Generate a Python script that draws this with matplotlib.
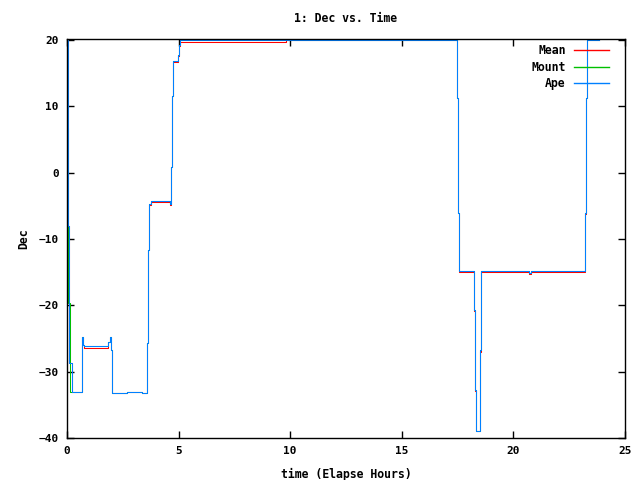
import matplotlib
matplotlib.use("Agg")
import matplotlib.pyplot as plt

# Mean (red)
mean_t = [0.00, 0.03, 0.06, 0.10, 0.21, 0.66, 0.69, 0.73, 0.78, 1.85, 1.93, 1.97, 2.03, 2.69, 3.34,
          3.58, 3.64, 3.69, 3.76, 4.61, 4.66, 4.72, 4.76, 4.96, 5.00, 5.05, 9.80, 17.49, 17.54, 17.58,
          18.25, 18.30, 18.34, 18.52, 18.57, 20.71, 20.80, 23.22, 23.27, 23.31, 23.82]
mean_v = [20, 5, -8, -28.7, -33, -28.8, -24.8, -26.0, -26.5, -25.6, -24.8, -26.8, -33.2, -33.0, -33.2,
          -25.7, -11.7, -4.9, -4.4, -4.9, 0.8, 11.6, 16.7, 17.6, 19.1, 19.75, 20, 11.3, -6.1, -14.95,
          -20.9, -32.9, -39.0, -27.0, -14.95, -15.3, -14.95, -6.2, 11.2, 20, 20]

# Mount (green)
mount_t = [0.00, 0.015, 0.06, 0.135, 0.66, 0.69, 0.73, 0.78, 1.85, 1.93, 1.97, 2.03, 2.69, 3.34,
           3.58, 3.64, 3.69, 3.76, 4.61, 4.66, 4.72, 4.76, 4.96, 5.00, 5.05, 17.49, 17.54, 17.58,
           18.25, 18.30, 18.34, 18.52, 18.57, 20.71, 20.80, 23.22, 23.27, 23.31, 23.82]
mount_v = [20, 6.8, -19.7, -33.1, -28.8, -24.8, -26.0, -26.2, -25.6, -24.8, -26.8, -33.2, -33.0, -33.2,
           -25.7, -11.7, -4.7, -4.3, -4.7, 0.8, 11.6, 16.9, 17.7, 19.2, 20, 11.3, -6.1, -14.8,
           -20.75, -32.8, -38.9, -26.8, -14.8, -15.2, -14.8, -6.1, 11.3, 20, 20]

# Ape (blue)
ape_t = [0.00, 0.03, 0.06, 0.10, 0.21, 0.66, 0.69, 0.73, 0.78, 1.85, 1.93, 1.97, 2.03, 2.69, 3.34,
         3.58, 3.64, 3.69, 3.76, 4.61, 4.66, 4.72, 4.76, 4.96, 5.00, 5.05, 17.49, 17.54, 17.58,
         18.25, 18.30, 18.34, 18.52, 18.57, 20.71, 20.80, 23.22, 23.27, 23.31, 23.82]
ape_v = [20, 5, -8, -28.7, -33, -28.8, -24.8, -26.0, -26.2, -25.6, -24.8, -26.8, -33.2, -33.0, -33.2,
         -25.7, -11.7, -4.7, -4.3, -4.7, 0.8, 11.6, 16.9, 17.7, 19.2, 20, 11.3, -6.1, -14.8,
         -20.75, -32.8, -38.9, -26.8, -14.8, -15.2, -14.8, -6.1, 11.3, 20, 20]

x_ticks = [0, 5, 10, 15, 20, 25]
y_ticks = [-40, -30, -20, -10, 0, 10, 20]

plt.rcParams['font.family'] = ['DejaVu Sans Mono']
plt.rcParams['font.weight'] = 'bold'
plt.rcParams['font.size'] = 8

fig = plt.figure(figsize=(6.4, 4.8), dpi=100)
ax = fig.add_axes([67/640, 1-438/480, 558/640, 399/480])

ax.plot(mean_t, mean_v, drawstyle='steps-post', color='#ff0000', lw=0.75, label='Mean', snap=True)
ax.plot(mount_t, mount_v, drawstyle='steps-post', color='#00c000', lw=0.75, label='Mount', snap=True)
ax.plot(ape_t, ape_v, drawstyle='steps-post', color='#0080ff', lw=0.75, label='Ape', snap=True)

ax.set_xlim(0, 25)
ax.set_ylim(-40, 20.15)
ax.set_xticks(x_ticks)
ax.set_yticks(y_ticks)
ax.tick_params(direction='in', length=5, width=1, top=True, right=True, pad=6, labelsize=8)
for s in ax.spines.values():
    s.set_linewidth(1)

ax.set_title('1: Dec vs. Time', fontsize=8.3, fontweight='bold', pad=12)
ax.set_xlabel('time (Elapse Hours)', fontsize=8.3, fontweight='bold', labelpad=8)
ax.set_ylabel('Dec', fontsize=8.3, fontweight='bold', labelpad=6)

leg = ax.legend(loc='upper right', bbox_to_anchor=(0.985, 1.007), frameon=False, markerfirst=False,
                handlelength=3.0, handletextpad=0.7, labelspacing=0.3, fontsize=8.3, borderaxespad=0.3)
for h in leg.get_lines():
    h.set_linewidth(1.0)
    h.set_snap(True)

fig.savefig('out.png', dpi=100)
